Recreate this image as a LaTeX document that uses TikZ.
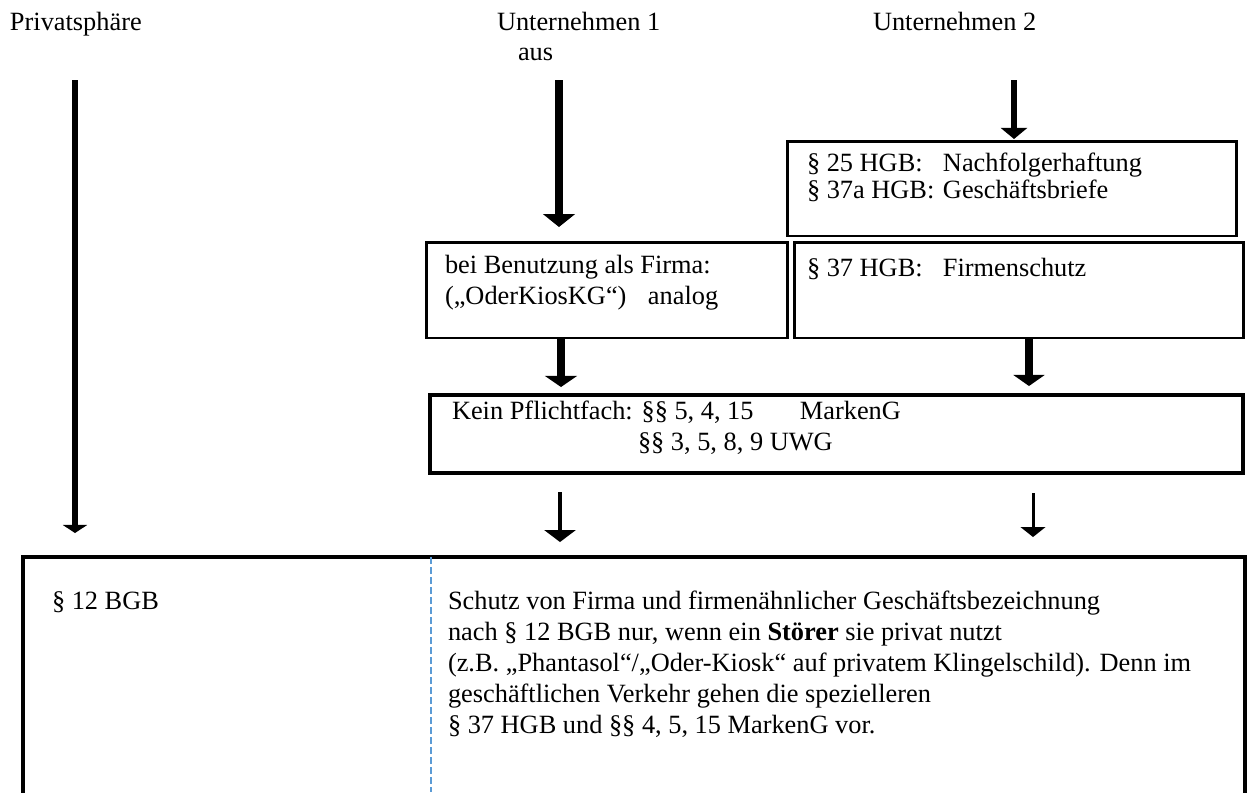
\documentclass[tikz,border=0pt]{standalone}
\usepackage{fontspec}
\setmainfont{Liberation Serif}
\usetikzlibrary{arrows.meta}
\definecolor{guideblue}{RGB}{91,155,213}
\begin{document}
\begin{tikzpicture}[x=0.02cm,y=-0.02cm,
  txt/.style={anchor=base west,inner sep=0pt,outer sep=0pt,
    font=\fontsize{15pt}{17pt}\selectfont},
  box/.style={draw=black,line width=1.7pt,inner sep=0pt,outer sep=0pt,
    rectangle,minimum width=#1},
  thickarr/.style={line width=#1},
]
\useasboundingbox (0,0) rectangle (1247,792);

% column headings
\node[txt] (hp)   at (10,30)  {Privatsphäre};
\node[txt] (hu1)  at (497,30) {Unternehmen 1};
\node[txt] (haus) at (518,60) {aus};
\node[txt] (hu2)  at (873,30) {Unternehmen 2};

% boxes
\node[box=9cm,minimum height=1.9cm]    (ba) at (1012,188.5) {};
\node[box=9cm,minimum height=1.92cm]   (bb) at (1019,290)   {};
\node[box=7.24cm,minimum height=1.92cm](bc) at (607,290)    {};
\node[box=16.26cm,minimum height=1.56cm,line width=1.9pt](bd) at (836.5,434) {};
\node[box=24.44cm,minimum height=5.46cm,line width=2.3pt](be) at (634,693.5) {};

% box texts
\node[txt] at (807,171) {\makebox[2.72cm][l]{§ 25 HGB:}Nachfolgerhaftung};
\node[txt] at (807,198) {\makebox[2.72cm][l]{§ 37a HGB:}Geschäftsbriefe};
\node[txt] at (807,276) {\makebox[2.72cm][l]{§ 37 HGB:}Firmenschutz};
\node[txt] at (445,273) {bei Benutzung als Firma:};
\node[txt] at (445,304) {\makebox[4.06cm][l]{(„OderKiosKG“)}analog};
\node[txt] at (452,419) {\makebox[6.96cm][l]{Kein Pflichtfach: §§ 5, 4, 15}MarkenG};
\node[txt] at (638,450) {§§ 3, 5, 8, 9 UWG};
\node[txt] at (52,609)  {§ 12 BGB};
\node[txt] at (448,609) {Schutz von Firma und firmenähnlicher Geschäftsbezeichnung};
\node[txt] at (448,640) {nach § 12 BGB nur, wenn ein \textbf{Störer} sie privat nutzt};
\node[txt] at (448,671) {(z.B. „Phantasol“/„Oder-Kiosk“ auf privatem Klingelschild). Denn im};
\node[txt] at (448,702) {geschäftlichen Verkehr gehen die spezielleren};
\node[txt] at (448,733) {§ 37 HGB und §§ 4, 5, 15 MarkenG vor.};

% column divider inside the lower box
\coordinate (dv) at (431,0);
\draw[guideblue,line width=0.6pt,dash pattern=on 3.8pt off 1.9pt]
  (dv |- be.north) -- (431,792);

% arrows
\coordinate (pa) at (75,80);
\coordinate (ua) at (559,80);
\coordinate (va) at (1014,80);
\coordinate (ca) at (561,0);
\coordinate (bx) at (1029,0);
\coordinate (la) at (560,492);
\coordinate (ra) at (1033,493);

\draw[line width=3.4pt,-{Triangle[width=13.7pt,length=4.6pt]}]
  (pa) -- ([yshift=0.48cm]pa |- be.north);
\draw[line width=4pt,-{Triangle[width=18pt,length=7.4pt]}]
  (ua) -- (559,227);
\draw[line width=3.8pt,-{Triangle[width=14.8pt,length=6.3pt]}]
  (va) -- ([yshift=0.04cm]va |- ba.north);
\draw[line width=5pt,-{Triangle[width=18pt,length=6.3pt]}]
  (ca |- bc.south) -- ([yshift=0.16cm]ca |- bd.north);
\draw[line width=5pt,-{Triangle[width=17.6pt,length=6.3pt]}]
  (bx |- bb.south) -- ([yshift=0.18cm]bx |- bd.north);
\draw[line width=2.5pt,-{Triangle[width=17.6pt,length=6.8pt]}]
  (la) -- ([yshift=0.3cm]la |- be.north);
\draw[line width=1.7pt,-{Triangle[width=14pt,length=5.7pt]}]
  (ra) -- ([yshift=0.4cm]ra |- be.north);
\end{tikzpicture}
\end{document}
